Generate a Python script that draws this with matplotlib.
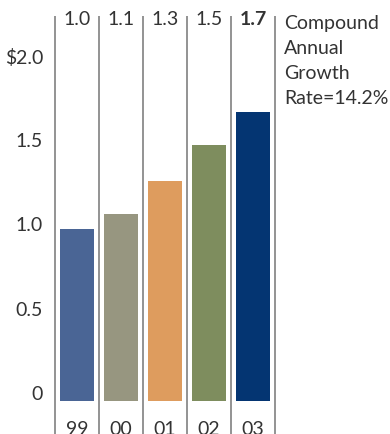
import matplotlib
matplotlib.use("Agg")
import matplotlib.pyplot as plt

YEARS = ["99", "00", "01", "02", "03"]
VALUES = [0.98, 1.07, 1.27, 1.48, 1.68]
VALUE_LABELS = ["1.0", "1.1", "1.3", "1.5", "1.7"]
COLORS = ["#4a6595", "#979680", "#de9c5e", "#7e8d5e", "#043572"]
YTICKS = [0, 0.5, 1.0, 1.5, 2.0]
YTICK_LABELS = ["0", "0.5", "1.0", "1.5", "$2.0"]
NOTE_LINES = ["Compound", "Annual", "Growth", "Rate=14.2%"]

W, H = 390, 434
TEXT = "#333333"
BASE = -0.04  # bars start a little below the "0" label
plt.rcParams["font.family"] = ["Lato", "DejaVu Sans"]

fig = plt.figure(figsize=(W / 100, H / 100), dpi=100)
ax = fig.add_axes([55 / W, 0, 220 / W, 1])
ax.set_xlim(-0.5, 4.5)
ax.set_ylim(-0.238, 2.345)
ax.axis("off")

x = range(len(YEARS))
ax.bar(x, [v - BASE for v in VALUES], width=0.77, bottom=BASE, color=COLORS)

for i in range(len(YEARS) + 1):
    ax.vlines(i - 0.5, -0.3, 2.25, color="#8a8a8a", linewidth=1.3, clip_on=False)

for i, (lab, yr) in enumerate(zip(VALUE_LABELS, YEARS)):
    ax.text(i, 2.226, lab, ha="center", va="center", fontsize=14, color=TEXT,
            fontweight="bold" if i == len(YEARS) - 1 else "normal")
    ax.text(i, -0.16, yr, ha="center", va="top", fontsize=14, color=TEXT)

for v, lab in zip(YTICKS, YTICK_LABELS):
    ax.annotate(lab, (-0.5, v), xytext=(-12, 0), textcoords="offset pixels",
                ha="right", va="center", fontsize=14, color=TEXT)

# side note, one line at a time so the spacing matches
for k, line in enumerate(NOTE_LINES):
    fig.text(284 / W, 1 - (29 + 25 * k) / H, line, ha="left", va="baseline",
             fontsize=14, color=TEXT)

fig.savefig("out.png", dpi=100)
